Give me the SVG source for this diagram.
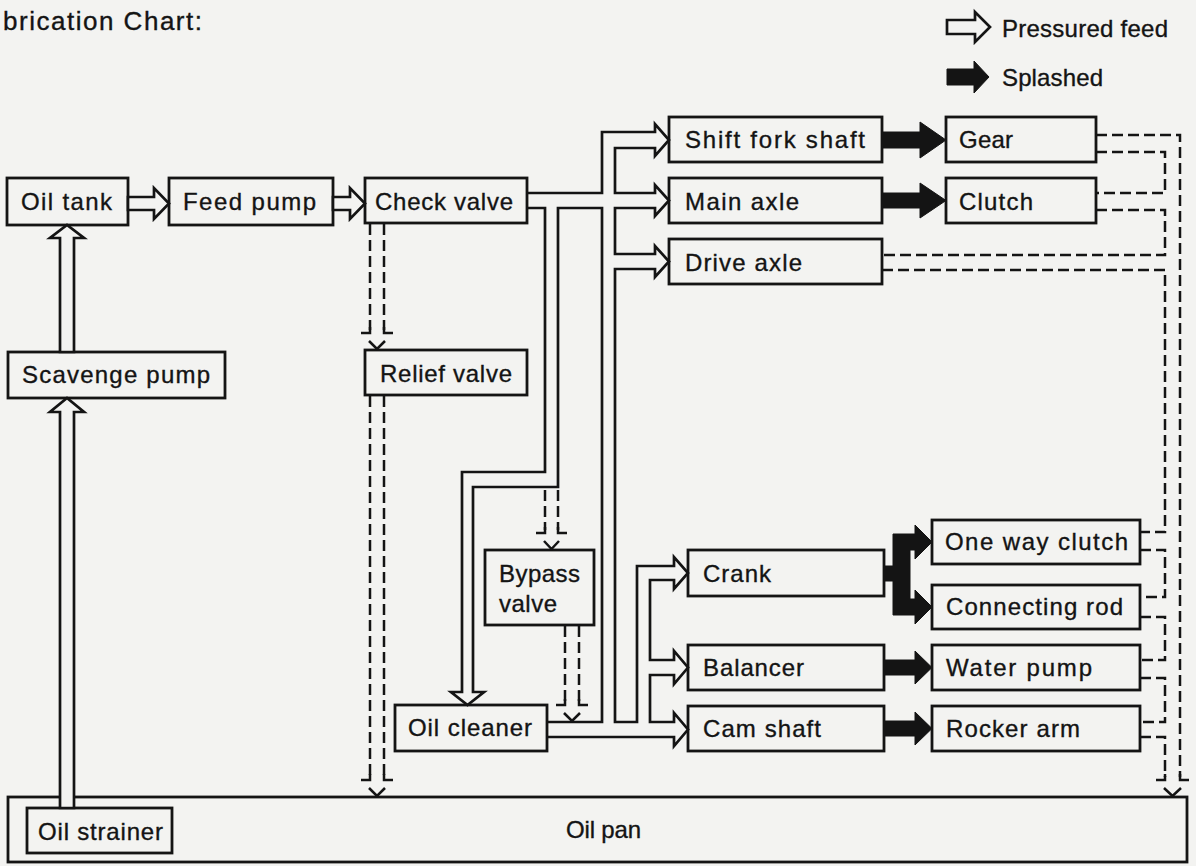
<svg xmlns="http://www.w3.org/2000/svg" width="1196" height="866" viewBox="0 0 1196 866">
<style>
.bx{fill:#f3f3f1;stroke:#141414;stroke-width:2.8}
.t{font-family:"Liberation Sans",Arial,sans-serif;font-size:24px;fill:#141414;stroke:#141414;stroke-width:0.35}
.ln{fill:none;stroke:#141414;stroke-width:2.7;stroke-linejoin:miter}
.wa{fill:#f3f3f1;stroke:#141414;stroke-width:2.7;stroke-linejoin:miter}
.dash{fill:none;stroke:#141414;stroke-width:2.5;stroke-dasharray:11 5}
.dh{fill:none;stroke:#141414;stroke-width:2.5}
.sp{fill:#141414;stroke:#141414;stroke-width:1}
</style>
<rect x="0" y="0" width="1196" height="866" fill="#f3f3f1"/>
<text class="t" x="3" y="30" style="font-size:26px" textLength="199" lengthAdjust="spacing">brication Chart:</text>

<g id="legend">
<polygon class="wa" points="947,20 975,20 975,12 990,27 975,42 975,34 947,34"/>
<text class="t" x="1002" y="37" textLength="166" lengthAdjust="spacing">Pressured feed</text>
<polygon class="sp" points="947,69 974,69 974,61 989,77 974,93 974,85 947,85"/>
<text class="t" x="1002" y="86" textLength="101" lengthAdjust="spacing">Splashed</text>
</g>

<g id="oil-pan"><rect class="bx" x="8" y="797" width="1179" height="65"/><text class="t" x="566" y="838" textLength="75" lengthAdjust="spacing">Oil pan</text></g>
<g id="oil-strainer"><rect class="bx" x="27" y="808" width="145" height="45"/><text class="t" x="38" y="840" textLength="125" lengthAdjust="spacing">Oil strainer</text></g>
<g id="oil-tank"><rect class="bx" x="7" y="178" width="121" height="47"/><text class="t" x="21" y="210" textLength="91" lengthAdjust="spacing">Oil tank</text></g>
<g id="feed-pump"><rect class="bx" x="169" y="178" width="164" height="47"/><text class="t" x="183" y="210" textLength="133" lengthAdjust="spacing">Feed pump</text></g>
<g id="check-valve"><rect class="bx" x="365" y="178" width="162" height="45"/><text class="t" x="375" y="210" textLength="138" lengthAdjust="spacing">Check valve</text></g>
<g id="scavenge-pump"><rect class="bx" x="8" y="352" width="217" height="46"/><text class="t" x="22" y="383" textLength="188" lengthAdjust="spacing">Scavenge pump</text></g>
<g id="relief-valve"><rect class="bx" x="365" y="350" width="162" height="45"/><text class="t" x="380" y="382" textLength="132" lengthAdjust="spacing">Relief valve</text></g>
<g id="shift-fork-shaft"><rect class="bx" x="669" y="117" width="213" height="45"/><text class="t" x="685" y="148" textLength="180" lengthAdjust="spacing">Shift fork shaft</text></g>
<g id="main-axle"><rect class="bx" x="669" y="178" width="213" height="45"/><text class="t" x="685" y="210" textLength="114" lengthAdjust="spacing">Main axle</text></g>
<g id="drive-axle"><rect class="bx" x="669" y="239" width="213" height="45"/><text class="t" x="685" y="271" textLength="117" lengthAdjust="spacing">Drive axle</text></g>
<g id="gear"><rect class="bx" x="946" y="117" width="150" height="45"/><text class="t" x="959" y="148" textLength="54" lengthAdjust="spacing">Gear</text></g>
<g id="clutch"><rect class="bx" x="946" y="178" width="150" height="45"/><text class="t" x="959" y="210" textLength="74" lengthAdjust="spacing">Clutch</text></g>
<g id="bypass-valve"><rect class="bx" x="485" y="550" width="109" height="75"/><text class="t" x="499" y="582" textLength="81" lengthAdjust="spacing">Bypass</text><text class="t" x="499" y="612" textLength="58" lengthAdjust="spacing">valve</text></g>
<g id="oil-cleaner"><rect class="bx" x="395" y="705" width="152" height="46"/><text class="t" x="408" y="736" textLength="124" lengthAdjust="spacing">Oil cleaner</text></g>
<g id="crank"><rect class="bx" x="688" y="550" width="196" height="46"/><text class="t" x="703" y="582" textLength="68" lengthAdjust="spacing">Crank</text></g>
<g id="balancer"><rect class="bx" x="688" y="645" width="196" height="45"/><text class="t" x="703" y="676" textLength="101" lengthAdjust="spacing">Balancer</text></g>
<g id="cam-shaft"><rect class="bx" x="688" y="706" width="196" height="45"/><text class="t" x="703" y="737" textLength="118" lengthAdjust="spacing">Cam shaft</text></g>
<g id="one-way-clutch"><rect class="bx" x="932" y="520" width="208" height="44"/><text class="t" x="945" y="550" textLength="183" lengthAdjust="spacing">One way clutch</text></g>
<g id="connecting-rod"><rect class="bx" x="932" y="585" width="208" height="44"/><text class="t" x="946" y="615" textLength="177" lengthAdjust="spacing">Connecting rod</text></g>
<g id="water-pump"><rect class="bx" x="932" y="645" width="208" height="45"/><text class="t" x="946" y="676" textLength="146" lengthAdjust="spacing">Water pump</text></g>
<g id="rocker-arm"><rect class="bx" x="932" y="706" width="208" height="45"/><text class="t" x="946" y="737" textLength="134" lengthAdjust="spacing">Rocker arm</text></g>

<g id="connectors">
<polygon class="wa" points="128,197 154,197 154,188 169,203.5 154,219 154,210 128,210"/>
<polygon class="wa" points="333,197 350,197 350,188 365,203.5 350,219 350,210 333,210"/>
<polygon class="wa" points="60,352 60,238 50,238 67,225 84,238 74,238 74,352"/>
<polygon class="wa" points="60,808 60,412 50,412 67,398 84,412 74,412 74,808"/>
<path class="ln" d="M527,193 H602 V132 H655 V124 L669,140 L655,156 V148 H615 V193 H655 V185 L669,200.5 L655,216 V208 H615 V254 H655 V246 L669,261.5 L655,277 V269 H615 V722 H637 V566 H674 V557 L688,573 L674,589 V580 H650 V660 H674 V651 L688,667.5 L674,684 V675 H650 V722 H674 V713 L688,729.5 L674,746 V737 H547"/>
<path class="ln" d="M547,722 H602 V208 H558 V487 H473 V692 H484 L467.5,705 L451,692 H462 V472 H545 V208 H527"/>
<polygon class="sp" points="882,132 920,132 920,122 946,140 920,158 920,148 882,148"/>
<polygon class="sp" points="882,193 920,193 920,183 946,200.5 920,218 920,208 882,208"/>
<polygon class="sp" points="884,566 893,566 893,534 915,534 915,525 932,542 915,559 915,550 910,550 910,599 915,599 915,590 932,607 915,624 915,615 893,615 893,581 884,581"/>
<polygon class="sp" points="884,660 915,660 915,651 932,667.5 915,684 915,675 884,675"/>
<polygon class="sp" points="884,721 915,721 915,712 932,728.5 915,745 915,736 884,736"/>
<path class="dash" d="M370,224 V330 M384,224 V330"/>
<path class="dh" d="M370,327 V333 H361 M384,327 V333 H393 M369,341 L377,349 L385,341"/>
<path class="dash" d="M370,396 V777 M384,396 V777"/>
<path class="dh" d="M370,774 V780 H361 M384,774 V780 H393 M369,788 L377,796 L385,788"/>
<path class="dash" d="M545,490 V530 M558,490 V530"/>
<path class="dh" d="M545,527 V533 H536 M558,527 V533 H567 M544,541 L551.5,549 L559,541"/>
<path class="dash" d="M565,626 V702 M579,626 V702"/>
<path class="dh" d="M565,699 V705 H556 M579,699 V705 H588 M564,713 L572,721 L580,713"/>
<path class="dash" d="M1096,135 H1180 V777"/>
<path class="dash" d="M1096,152 H1165 V193 H1096"/>
<path class="dash" d="M1096,210 H1165 V255 H882"/>
<path class="dash" d="M882,270 H1165 V532 H1140"/>
<path class="dash" d="M1140,550 H1165 V597 H1140"/>
<path class="dash" d="M1140,617 H1165 V660 H1140"/>
<path class="dash" d="M1140,678 H1165 V722 H1140"/>
<path class="dash" d="M1140,737 H1165 V777"/>
<path class="dh" d="M1165,774 V780 H1156 M1180,774 V780 H1189 M1164,788 L1172.5,796 L1181,788"/>
</g>
</svg>
